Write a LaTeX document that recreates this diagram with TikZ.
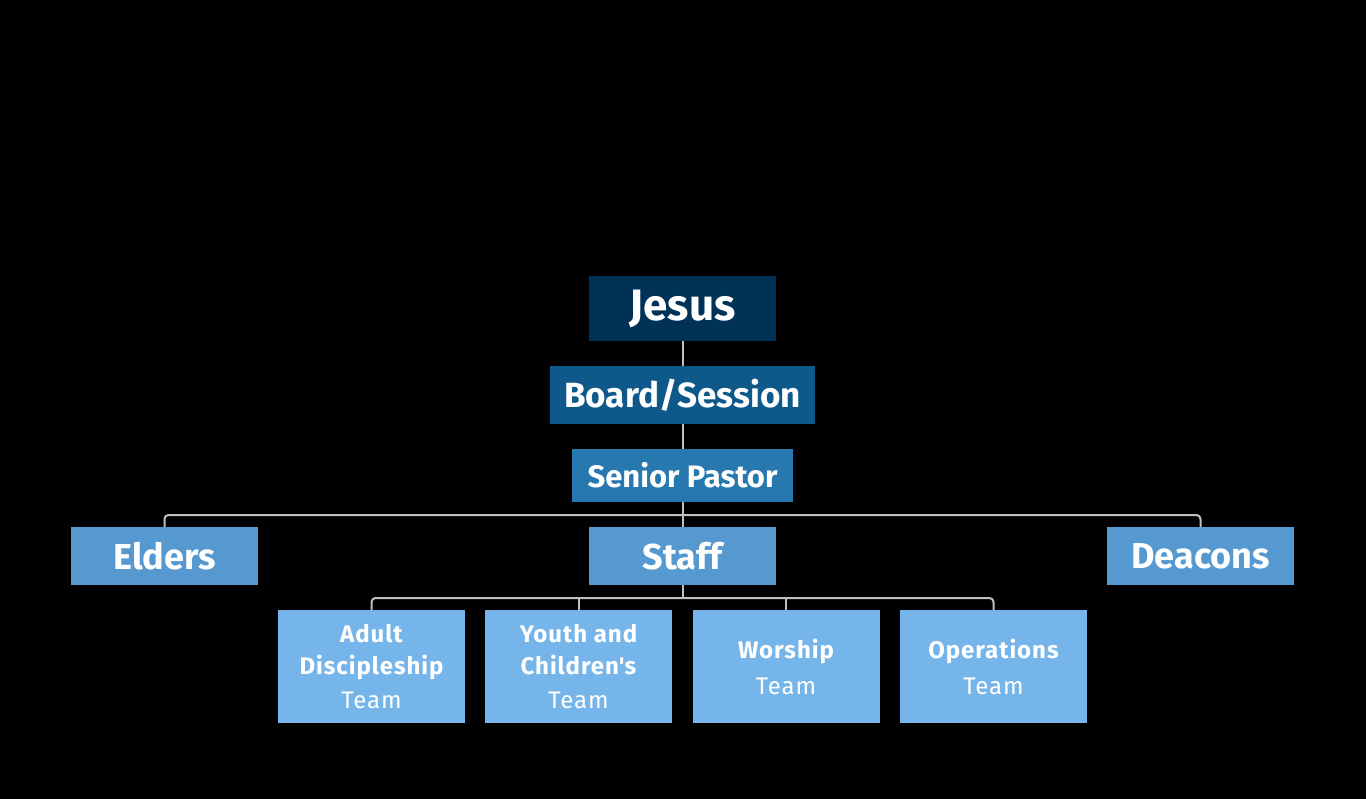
\documentclass[tikz,border=0pt]{standalone}
\usepackage{fontspec}
\setmainfont{Fira Sans}
\usetikzlibrary{positioning}

\definecolor{navyTop}{RGB}{0,50,88}
\definecolor{blueBoard}{RGB}{14,89,138}
\definecolor{bluePastor}{RGB}{40,120,176}
\definecolor{blueMid}{RGB}{85,153,208}
\definecolor{blueTeam}{RGB}{117,181,233}
\definecolor{lineGray}{RGB}{192,192,192}

\tikzset{
  box/.style={rectangle, inner sep=0pt, text=white, font=\bfseries, align=center},
  teambox/.style={box, fill=blueTeam, minimum width=187pt, minimum height=113pt,
    font=\bfseries\fontsize{24}{32}\selectfont\addfontfeatures{LetterSpace=4}},
  conn/.style={draw=lineGray, line width=2pt, rounded corners=4pt}
}

\begin{document}
\begin{tikzpicture}[x=1pt,y=-1pt]

% --- Geometry settings ---
\def\midX{682.5}   % centre line of the chart
\def\busA{515}     % y of the bus below the senior pastor
\def\busB{598}     % y of the bus below the staff

% --- Background / bounding box ---
\fill[black] (0,0) rectangle (1366,799);
\useasboundingbox (0,0) rectangle (1366,799);

% --- Top of the chain ---
\node[box, fill=navyTop, minimum width=187pt, minimum height=65pt,
  font=\bfseries\fontsize{44}{50}\selectfont] (jesus) at (\midX,308.5) {Jesus};
\node[box, fill=blueBoard, minimum width=265pt, minimum height=58pt,
  font=\bfseries\fontsize{35}{42}\selectfont] (board) at (\midX,395) {Board/Session};
\node[box, fill=bluePastor, minimum width=221pt, minimum height=53pt,
  font=\bfseries\fontsize{31}{38}\selectfont] (senior) at (\midX,475.5) {Senior Pastor};

% --- Second level ---
\node[box, fill=blueMid, minimum width=187pt, minimum height=58pt,
  font=\bfseries\fontsize{36}{42}\selectfont] (elders) at (164.5,556) {Elders};
\node[box, fill=blueMid, minimum width=187pt, minimum height=58pt,
  font=\bfseries\fontsize{36}{42}\selectfont] (staff) at (\midX,556) {Staff};
\node[box, fill=blueMid, minimum width=187pt, minimum height=58pt,
  font=\bfseries\fontsize{36}{42}\selectfont] (deacons) at (1200.5,556) {Deacons};

% --- Staff teams ---
\node[teambox] (adult) at (371.5,666.5)
  {Adult\\Discipleship\\[2pt]\mdseries Team};
\node[teambox] (youth) at (578.5,666.5)
  {Youth and\\Children\textquotesingle s\\[2pt]\mdseries Team};
\node[teambox] (worship) at (786,666.5)
  {Worship\\[4pt]\mdseries Team};
\node[teambox] (ops) at (993.5,666.5)
  {Operations\\[4pt]\mdseries Team};

% --- Bus points ---
\coordinate (busTop) at (\midX,\busA);
\coordinate (busLow) at (\midX,\busB);

% --- Connectors ---
\draw[conn] (jesus.south) -- (board.north);
\draw[conn] (board.south) -- (senior.north);
\draw[conn] (senior.south) -- (staff.north);
\draw[conn] (elders.north) |- (busTop) -| (deacons.north);
\draw[conn] (staff.south) -- (busLow);
\draw[conn] (adult.north) |- (busLow) -| (ops.north);
\draw[conn] (youth.north) -- (youth.north |- busLow);
\draw[conn] (worship.north) -- (worship.north |- busLow);

\end{tikzpicture}
\end{document}
